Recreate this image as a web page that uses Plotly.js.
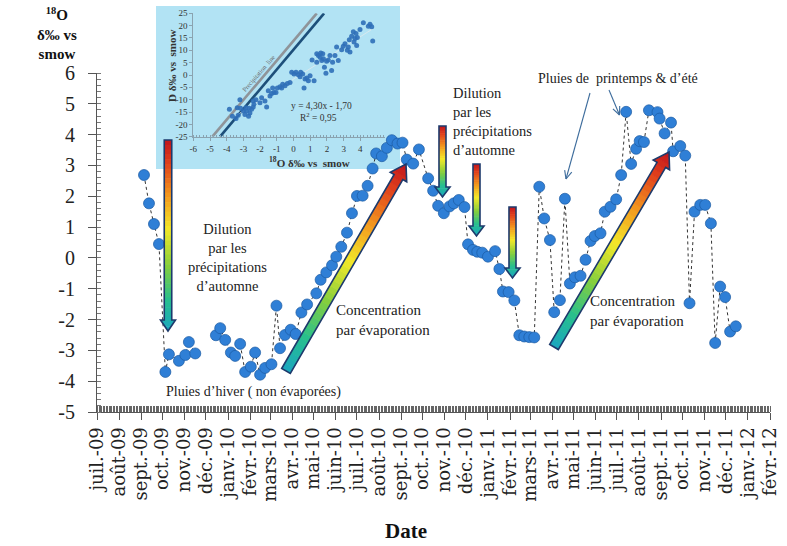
<!DOCTYPE html>
<html><head><meta charset="utf-8">
<script src="https://cdn.plot.ly/plotly-3.0.1.min.js"></script>
<style>html,body{margin:0;padding:0;background:#fff}</style>
</head><body>
<div id="chart" style="width:787px;height:546px"></div>
<script>
// ---------- data ----------
const sampleDates = ['2009-09-05','2009-09-12','2009-09-19','2009-09-26','2009-10-05','2009-10-10','2009-10-24','2009-11-02','2009-11-07','2009-11-16',
'2009-12-01',
'2009-12-15','2009-12-21','2009-12-28','2010-01-05','2010-01-11','2010-01-18','2010-01-25','2010-02-02','2010-02-08','2010-02-15',
'2010-02-22','2010-03-03','2010-03-10','2010-03-15','2010-03-22','2010-03-30','2010-04-06','2010-04-14','2010-04-22','2010-05-05',
'2010-05-11','2010-05-19','2010-05-27','2010-06-02','2010-06-09','2010-06-17','2010-06-24','2010-07-01','2010-07-09','2010-07-16',
'2010-07-23','2010-07-28','2010-08-05','2010-08-12','2010-08-19','2010-08-27','2010-09-03','2010-09-09','2010-09-18','2010-09-26',
'2010-10-09','2010-10-16','2010-10-23','2010-10-31','2010-11-08','2010-11-14','2010-11-21','2010-11-29','2010-12-04','2010-12-11',
'2010-12-17','2010-12-24','2011-01-01','2011-01-11','2011-01-17','2011-01-22','2011-01-30','2011-02-07','2011-02-14','2011-02-21',
'2011-02-28','2011-03-07','2011-03-14','2011-03-21','2011-03-29','2011-04-04','2011-04-12','2011-04-19','2011-04-26','2011-05-03',
'2011-05-11','2011-05-18','2011-05-25','2011-05-31','2011-06-08','2011-06-14','2011-06-22','2011-06-30','2011-07-07','2011-07-14',
'2011-07-21','2011-07-28','2011-08-02','2011-08-08','2011-08-15','2011-08-27','2011-08-30','2011-09-06','2011-09-15','2011-09-18',
'2011-09-28','2011-10-05','2011-10-11','2011-10-18','2011-10-26','2011-11-02','2011-11-10','2011-11-16','2011-11-23','2011-11-30',
'2011-12-07','2011-12-15'];
const o18Values = [2.69,1.77,1.10,0.45,-3.70,-3.13,-3.34,-3.15,-2.73,-3.10,
null,
-2.51,-2.28,-2.66,-3.07,-3.18,-2.79,-3.70,-3.53,-3.07,-3.79,
-3.57,-3.45,-1.55,-2.93,-2.50,-2.33,-2.47,-1.77,-1.51,-1.15,
-0.71,-0.47,-0.24,0.04,0.36,0.82,1.45,2.01,2.02,2.34,
2.90,3.39,3.30,3.57,3.82,3.71,3.74,3.19,3.06,3.52,
2.58,2.18,1.69,1.45,1.67,1.77,1.88,1.65,0.44,0.26,
0.20,0.17,0.04,0.22,-0.36,-1.09,-1.11,-1.38,-2.51,-2.55,
-2.57,-2.58,2.31,1.28,0.58,-1.76,-1.37,1.92,-0.83,-0.63,
-0.58,-0.06,0.55,0.71,0.80,1.50,1.66,1.90,2.69,4.74,
3.05,3.54,3.79,3.76,4.79,4.73,4.52,4.04,4.39,3.46,
3.63,3.32,-1.47,1.50,1.72,1.72,1.12,-2.76,-0.93,-1.27,
-2.39,-2.22];

const monthTicks = ['2009-07-01','2009-08-01','2009-09-01','2009-10-01','2009-11-01','2009-12-01','2010-01-01','2010-02-01','2010-03-01','2010-04-01','2010-05-01','2010-06-01','2010-07-01','2010-08-01','2010-09-01','2010-10-01','2010-11-01','2010-12-01','2011-01-01','2011-02-01','2011-03-01','2011-04-01','2011-05-01','2011-06-01','2011-07-01','2011-08-01','2011-09-01','2011-10-01','2011-11-01','2011-12-01','2012-01-01','2012-02-01'];
const monthLabels = ['juil.-09','août-09','sept.-09','oct.-09','nov.-09','déc.-09','janv.-10','févr.-10','mars-10','avr.-10','mai-10','juin-10','juil.-10','août-10','sept.-10','oct.-10','nov.-10','déc.-10','janv.-11','févr.-11','mars-11','avr.-11','mai-11','juin-11','juil.-11','août-11','sept.-11','oct.-11','nov.-11','déc.-11','janv.-12','févr.-12'];
const yTickVals = [-5,-4,-3,-2,-1,0,1,2,3,4,5,6];
const yTickText = ['-5','-4','-3','-2','-1','0','1','2','3','4','5','6'];

// inset: deuterium vs oxygen-18
const insetO = [-3.84,-3.66,-3.44,-3.31,-3.21,-3.17,-3.0,-2.91,-2.81,-2.69,-2.61,-2.51,-2.41,-2.65,-2.85,-3.37,-2.41,-2.25,-2.37,-1.61,
-1.71,-1.41,-1.31,-1.17,-0.97,-1.05,-0.81,-0.71,-0.51,-0.37,-0.21,0.03,0.15,0.29,0.39,0.55,0.63,0.79,0.99,1.23,
1.11,1.39,1.49,1.59,1.63,1.69,1.79,1.85,1.98,1.94,2.28,2.18,2.34,2.68,2.58,2.88,3.08,3.22,3.34,3.38,
3.48,3.58,3.62,3.74,3.78,3.82,3.68,3.98,4.18,4.48,4.58,4.74,4.68,2.98,3.28,-2.01,-1.91,-1.51,-1.25,-0.65,
-0.11,0.43,0.69,0.89,1.39,1.75,2.08,2.48];
const insetD = [-13.9,-16.7,-17.6,-16.3,-10.0,-13.5,-14.6,-16.0,-14.6,-16.7,-15.4,-13.9,-13.0,-13.5,-13.3,-13.3,-10.5,-10.0,-11.9,-13.0,
-10.5,-8.5,-7.5,-7.1,-5.3,-7.1,-4.8,-5.3,-4.4,-3.4,-3.0,0.4,1.1,0.1,-0.7,0.4,-5.3,-1.2,-0.3,-2.3,
6.1,5.2,7.9,7.2,8.9,5.9,6.6,3.1,5.6,0.7,1.8,7.9,5.2,5.9,11.3,10.2,12.7,10.0,14.3,9.3,
15.7,17.5,13.4,16.8,12.0,15.2,14.8,18.4,21.2,19.8,20.6,13.8,19.5,11.6,11.3,-11.2,-9.2,-6.4,-5.3,-3.7,
1.1,1.1,-1.6,-2.3,8.6,8.6,6.1,7.9];
const trendO = [-3.7, 4.74];
const trendD = [-17.6, 18.7];
const precipGreyO = [-4.86, 1.39];
const precipGreyD = [-25, 25];
const precipBlueO = [-4.40, 1.83];
const precipBlueD = [-25, 25];
const insetXTicks = [-6,-5,-4,-3,-2,-1,0,1,2,3,4];
const insetXText = ['-6','-5','-4','-3','-2','-1','0','1','2','3','4'];
const insetYTicks = [-25,-20,-15,-10,-5,0,5,10,15,20,25];
const insetYText = ['-25','-20','-15','-10','-5','0','5','10','15','20','25'];

// ---------- page geometry helpers (decoration only) ----------
const W = 787, H = 546, ML = 97, MR = 17, MT = 5, MB = 134;
const PW = W - ML - MR, PH = H - MT - MB;
const px = x => (x - ML) / PW;
const py = y => (H - MB - y) / PH;

const serif = 'Liberation Serif';
const jetStops = [[0,[192,20,28]],[0.12,[224,64,28]],[0.3,[243,156,31]],[0.47,[243,232,41]],[0.66,[134,207,60]],[0.84,[39,191,142]],[1,[26,166,192]]];
function colAt(t){
  t = Math.max(0, Math.min(1, t));
  for (let i = 1; i < jetStops.length; i++) {
    if (t <= jetStops[i][0]) {
      const a = jetStops[i-1], b = jetStops[i];
      const f = (t - a[0]) / (b[0] - a[0]);
      const c = a[1].map((v, k) => Math.round(v + (b[1][k] - v) * f));
      return 'rgb(' + c.join(',') + ')';
    }
  }
  return 'rgb(26,166,192)';
}
function pathOf(pts){
  return 'M ' + pts.map(p => px(p[0]).toFixed(5) + ',' + py(p[1]).toFixed(5)).join(' L ') + ' Z';
}
// gradient arrow: redAtTail=true -> tail red, tip teal; else tail teal, tip red
function gradArrow(x0, y0, x1, y1, sw, hw, hl, redAtTail){
  const out = [];
  const dx = x1 - x0, dy = y1 - y0, len = Math.hypot(dx, dy);
  const ux = dx / len, uy = dy / len, nx = -uy, ny = ux;
  const P = (t, w) => [x0 + ux * t + nx * w, y0 + uy * t + ny * w];
  const sl = len - hl;
  const halfW = t => t <= sl ? sw / 2 : (hw / 2) * (1 - (t - sl) / hl);
  const N = 40;
  for (let i = 0; i < N; i++) {
    const t0 = len * i / N, t1 = Math.min(len, len * (i + 1) / N + 0.6);
    let pts;
    if (t1 <= sl) {
      pts = [P(t0, -sw/2), P(t1, -sw/2), P(t1, sw/2), P(t0, sw/2)];
    } else if (t0 >= sl) {
      pts = [P(t0, -halfW(t0)), P(t1, -halfW(t1)), P(t1, halfW(t1)), P(t0, halfW(t0))];
    } else {
      pts = [P(t0, -sw/2), P(sl, -sw/2), P(sl, -hw/2), P(t1, -halfW(t1)), P(t1, halfW(t1)), P(sl, hw/2), P(sl, sw/2), P(t0, sw/2)];
    }
    const tm = (t0 + t1) / 2 / len;
    out.push({type:'path', xref:'paper', yref:'paper', path: pathOf(pts),
      fillcolor: colAt(redAtTail ? tm : 1 - tm), line:{width:0}, layer:'above'});
  }
  const outline = [P(0, -sw/2), P(sl, -sw/2), P(sl, -hw/2), P(len, 0), P(sl, hw/2), P(sl, sw/2), P(0, sw/2)];
  out.push({type:'path', xref:'paper', yref:'paper', path: pathOf(outline),
    fillcolor:'rgba(0,0,0,0)', line:{color:'#1d3a6c', width:1.6}, layer:'above'});
  return out;
}
function thinArrow(x0, y0, x1, y1){
  const c = '#3d6c9c';
  const a = Math.atan2(y0 - y1, x0 - x1), L = 9, s = 0.42;
  const seg = (ax, ay, bx, by) => ({type:'line', xref:'paper', yref:'paper', x0:px(ax), y0:py(ay), x1:px(bx), y1:py(by), line:{color:c, width:1.1}});
  return [seg(x0, y0, x1, y1),
          seg(x1, y1, x1 + L*Math.cos(a+s), y1 + L*Math.sin(a+s)),
          seg(x1, y1, x1 + L*Math.cos(a-s), y1 + L*Math.sin(a-s))];
}

const shapes = [
  {type:'rect', xref:'paper', yref:'paper', x0:px(156), x1:px(400), y0:py(169), y1:py(6), fillcolor:'#b2e3f4', line:{width:0}, layer:'below'}
];
shapes.push(...gradArrow(168, 140, 168, 331, 7.5, 15, 11, true));
shapes.push(...gradArrow(442.5, 126, 442.5, 197, 7, 15, 10, true));
shapes.push(...gradArrow(476.5, 164, 476.5, 236, 7, 15, 10, true));
shapes.push(...gradArrow(512.5, 207, 512.5, 278, 7, 15, 10, true));
shapes.push(...gradArrow(286, 371, 406, 164, 10, 19, 15, false));
shapes.push(...gradArrow(554, 347, 669, 152, 10, 19, 15, false));
shapes.push(...thinArrow(590, 93, 566, 179));
shapes.push(...thinArrow(609, 90, 619.5, 115));

function ann(text, x, y, o){
  return Object.assign({text:text, x:px(x), y:py(y), xref:'paper', yref:'paper', showarrow:false,
    font:{family:serif, size:14, color:'#222'}, xanchor:'center', yanchor:'middle'}, o || {});
}
const annotations = [
  ann('<b><sup>18</sup>O<br>δ‰ vs<br>smow</b>', 57, 33, {font:{family:serif, size:15, color:'#111'}, align:'center'}),
  ann('<b>Date</b>', 406, 531, {font:{family:serif, size:21, color:'#111'}}),
  ann('Dilution<br>par les<br>précipitations<br>d’automne', 227, 257, {align:'center', font:{family:serif, size:14.5, color:'#222'}}),
  ann('Pluies d’hiver ( non évaporées)', 253, 392, {font:{family:serif, size:14, color:'#222'}}),
  ann('Concentration<br>par évaporation', 334, 320, {xanchor:'left', align:'left', font:{family:serif, size:15, color:'#222'}}),
  ann('Dilution<br>par les<br>précipitations<br>d’automne', 451, 121, {xanchor:'left', align:'left', font:{family:serif, size:14.5, color:'#222'}}),
  ann('Pluies de  printemps &amp; d’été', 618, 78, {font:{family:serif, size:14, color:'#222'}}),
  ann('Concentration<br>par évaporation', 588, 311, {xanchor:'left', align:'left', font:{family:serif, size:15, color:'#222'}}),
  // inset texts
  ann('<b>D δ‰ vs  smow</b>', 172, 66, {textangle:-90, font:{family:serif, size:11, color:'#333'}}),
  ann('<b><sup>18</sup>O δ‰ vs  smow</b>', 309, 162, {font:{family:serif, size:11, color:'#333'}}),
  ann('y = 4,30x - 1,70', 321, 106, {font:{family:serif, size:9.5, color:'#333'}}),
  ann('R<sup>2</sup> = 0,95', 318, 117, {font:{family:serif, size:9.5, color:'#333'}}),
  ann('Precipitation  line', 258, 73, {textangle:-49, font:{family:serif, size:6.5, color:'#666'}})
];

const traces = [
  {xaxis:'x2', yaxis:'y2', type:'scatter', mode:'lines', x: precipGreyO, y: precipGreyD,
   line:{color:'#8f9499', width:2.6}, hoverinfo:'skip'},
  {xaxis:'x2', yaxis:'y2', type:'scatter', mode:'lines', x: precipBlueO, y: precipBlueD,
   line:{color:'#1d4f7a', width:2.6}, hoverinfo:'skip'},
  {xaxis:'x2', yaxis:'y2', type:'scatter', mode:'lines', x: trendO, y: trendD,
   line:{color:'#d8e8ee', width:1}, hoverinfo:'skip'},
  {xaxis:'x2', yaxis:'y2', type:'scatter', mode:'markers', x: insetO, y: insetD,
   marker:{size:5, color:'#2f6fb8', opacity:0.9}},
  {x: sampleDates, y: o18Values, xaxis:'x', yaxis:'y', type:'scatter', mode:'lines+markers', connectgaps:false,
   line:{color:'#333', width:1, dash:'dot'},
   marker:{size:11, color:'#2f7fd6', line:{color:'#1b5aa2', width:0.7}}}
];

const layout = {
  width: W, height: H,
  margin: {l:ML, r:MR, t:MT, b:MB, pad:0},
  paper_bgcolor:'#ffffff', plot_bgcolor:'rgba(0,0,0,0)',
  showlegend:false,
  xaxis: {type:'date', domain:[0,1], anchor:'y', range:['2009-07-01','2012-02-01'],
    showline:true, linecolor:'#555', linewidth:1, showgrid:false, zeroline:false,
    ticks:'outside', ticklen:7, tickcolor:'#555',
    tickmode:'array', tickvals: monthTicks, ticktext: monthLabels, tickangle:-90,
    tickfont:{family:'DejaVu Serif', size:18, color:'#222'},
    minor:{ticks:'inside', dtick: 2*86400000, ticklen:6, tickcolor:'#666', tickwidth:1, showgrid:false}},
  yaxis: {domain:[0, (H - MB - 73)/PH], anchor:'x', range:[-5, 6],
    showline:true, linecolor:'#555', linewidth:1, showgrid:false, zeroline:false,
    ticks:'outside', ticklen:8, tickcolor:'#555',
    tickmode:'array', tickvals: yTickVals, ticktext: yTickText,
    tickfont:{family:serif, size:20, color:'#222'}, ticklabelstandoff:9,
    minor:{ticks:'inside', dtick:0.2, ticklen:4, tickcolor:'#777', showgrid:false}},
  xaxis2: {domain:[px(193.3), px(385.4)], anchor:'y2', range:[-6, 5.5],
    showline:true, linecolor:'#8aa3b0', showgrid:false, zeroline:false,
    ticks:'outside', ticklen:3, tickcolor:'#8aa3b0',
    tickmode:'array', tickvals: insetXTicks, ticktext: insetXText,
    tickfont:{family:serif, size:9, color:'#333'},
    minor:{ticks:'inside', dtick:0.2, ticklen:2, tickcolor:'#8aa3b0', showgrid:false}},
  yaxis2: {domain:[py(136.7), py(13.3)], anchor:'x2', range:[-25, 25],
    showline:true, linecolor:'#8aa3b0', showgrid:false, zeroline:false,
    ticks:'outside', ticklen:3, tickcolor:'#8aa3b0',
    tickmode:'array', tickvals: insetYTicks, ticktext: insetYText,
    tickfont:{family:serif, size:9, color:'#333'}},
  shapes: shapes,
  annotations: annotations
};

Plotly.newPlot('chart', traces, layout, {displayModeBar:false, staticPlot:true});
</script>
</body></html>
